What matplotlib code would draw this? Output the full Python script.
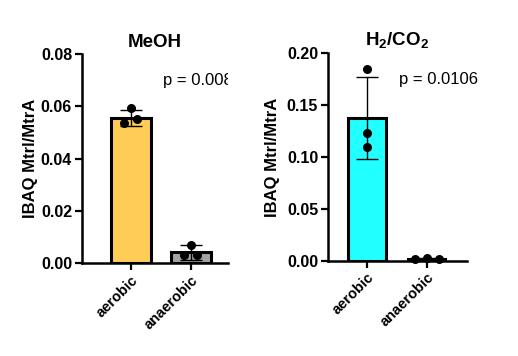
import numpy as np
import matplotlib.pyplot as plt

plt.rcParams['font.family'] = ['Liberation Sans', 'DejaVu Sans']
plt.rcParams['mathtext.fontset'] = 'custom'
plt.rcParams['mathtext.rm'] = 'Liberation Sans'
plt.rcParams['mathtext.bf'] = 'Liberation Sans:bold'

# data
conditions = ['aerobic', 'anaerobic']

meoh_mean = [0.0556, 0.0042]
meoh_sd = [0.0030, 0.0029]
meoh_points = [[0.0595, 0.0536, 0.0550], [0.0071, 0.0030, 0.0030]]
meoh_p = 'p = 0.0085'

h2_mean = [0.1378, 0.0023]
h2_sd = [0.0394, 0.0007]
h2_points = [[0.1843, 0.1228, 0.1100], [0.0020, 0.0030, 0.0022]]
h2_p = 'p = 0.0106'

# horizontal jitter of the dots
meoh_jitter = [[0.0, -0.12, 0.10], [0.0, -0.12, 0.10]]
h2_jitter = [[0.0, 0.0, 0.0], [-0.19, 0.0, 0.21]]

fig = plt.figure(figsize=(5.18, 3.56), dpi=100)
ax1 = fig.add_axes([0.158, 0.261, 0.282, 0.587])
ax2 = fig.add_axes([0.633, 0.267, 0.268, 0.584])


def draw_panel(ax, means, sds, points, jitter, colors, title, ylim, yticks, ptext, ppos, clip,
               xlim, width, lpad):
    x = np.arange(len(conditions))
    ax.bar(x, means, width=width, color=colors, edgecolor='black', linewidth=2.2, zorder=2)
    ax.errorbar(x, means, yerr=sds, fmt='none', ecolor='black', elinewidth=1.0,
                capsize=8, capthick=1.0, zorder=3)
    for i in range(len(conditions)):
        ax.scatter(x[i] + np.array(jitter[i]), points[i], s=30, color='black', zorder=4,
                   clip_on=False)
    ax.set_xlim(xlim)
    ax.set_ylim(ylim)
    ax.set_yticks(yticks)
    ax.set_yticklabels(['%.2f' % v for v in yticks], fontweight='bold', fontsize=11.5)
    ax.set_xticks(x)
    ax.set_xticklabels(conditions, rotation=45, ha='right', rotation_mode='anchor',
                       fontweight='bold', fontsize=10.5)
    ax.set_ylabel('IBAQ Mtrl/MtrA', fontweight='bold', fontsize=12, labelpad=lpad)
    ax.set_title(title, fontweight='bold', fontsize=13.5, pad=5)
    for s in ['top', 'right']:
        ax.spines[s].set_visible(False)
    for s in ['left', 'bottom']:
        ax.spines[s].set_linewidth(1.8)
    ax.tick_params(axis='both', width=1.6, length=5, pad=2)
    t = ax.text(ppos[0], ppos[1], ptext, fontsize=12, va='center', ha='left')
    t.set_clip_on(clip)


draw_panel(ax1, meoh_mean, meoh_sd, meoh_points, meoh_jitter, ['#FFCC55', '#A3A3A3'],
           'MeOH', (0, 0.08), [0, 0.02, 0.04, 0.06, 0.08], meoh_p, (0.53, 0.070), True,
           (-0.82, 1.62), 0.66, 2)
draw_panel(ax2, h2_mean, h2_sd, h2_points, h2_jitter, ['#22FFFF', '#A3A3A3'],
           r'H$_\mathbf{2}$/CO$_\mathbf{2}$', (0, 0.20), [0, 0.05, 0.10, 0.15, 0.20],
           h2_p, (0.53, 0.175), False, (-0.65, 1.67), 0.63, 5)

fig.savefig('out.png', dpi=100)
